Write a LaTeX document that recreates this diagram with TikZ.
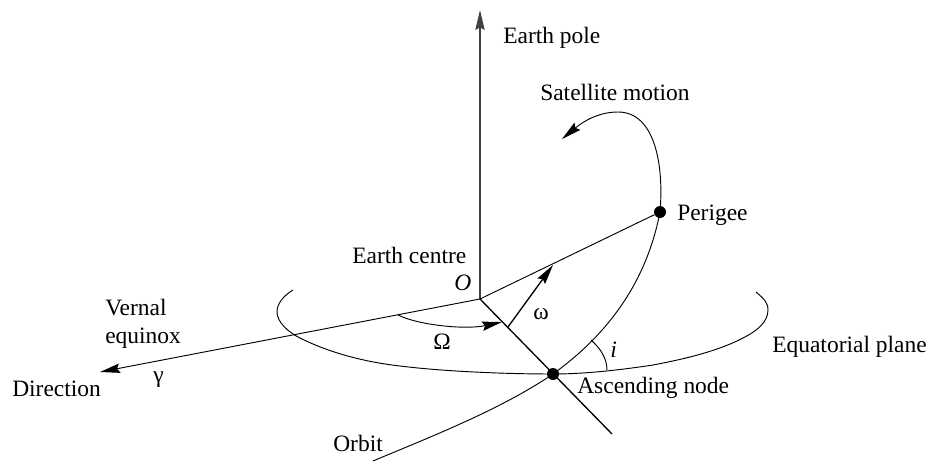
\documentclass[tikz,border=0pt]{standalone}
\usepackage{fontspec}
\setmainfont{Liberation Serif}
\usetikzlibrary{arrows.meta,positioning,calc}
\begin{document}
\begin{tikzpicture}[
  x=0.75pt, y=-0.75pt,
  font=\fontsize{17.6pt}{20pt}\selectfont,
  >={Stealth[length=15pt, width=7pt, inset=2pt]},
  lbl/.style={anchor=base west, inner sep=0pt},
  dotmark/.style={circle, fill=black, inner sep=0pt, minimum size=9pt},
  edge/.style={draw=black, line width=0.7pt},
  heavy/.style={draw=black, line width=1pt},
]
\useasboundingbox (0,0) rectangle (932,464);

% ---- points ----
\coordinate (centre) at (480,299);
\coordinate (poletip) at (480,10);
\coordinate (verntip) at (100,372);
\coordinate (linend) at (612,434);
\coordinate (omegabase) at (508,327);
\coordinate (omegatip) at (553,265);
\coordinate (nodeline) at (398,315);
\coordinate (nodearc) at (502,322);
\coordinate (orbitend) at (373,461);
\coordinate (motiontip) at (562,139);
\coordinate (eqleft) at (293,290);
\coordinate (eqright) at (756,292);
\coordinate (incl1) at (591,340);
\coordinate (incl2) at (607,370);
\node[dotmark] (perigee) at (660,212) {};
\node[dotmark] (ascnode) at (553,374) {};

% ---- labels ----
\node[lbl] (pole) at (503,43) {Earth pole};
\node[lbl] (motion) at (540,100) {Satellite motion};
\node[lbl] (per) at (677,220) {Perigee};
\node[lbl] (ecentre) at (352,263) {Earth centre};
\node[lbl] (cname) at (454,290) {\itshape O};
\node[lbl] (vern) at (105,315) {Vernal};
\node[lbl] (equi) at (105,343) {equinox};
\node[lbl] (dir) at (12,396) {Direction};
\node[lbl] (gamma) at (153,382) {γ};
\node[lbl] (bigom) at (433,349) {Ω};
\node[lbl] (smallom) at (533,319) {ω};
\node[lbl] (incl) at (610,357) {\itshape i};
\node[lbl] (eqplane) at (772,352) {Equatorial plane};
\node[lbl] (asc) at (577,393) {Ascending node};
\node[lbl] (orb) at (333,451) {Orbit};

% ---- straight lines ----
\draw[edge,draw=black!75,line width=1pt,->] (centre) -- (poletip);
\draw[edge,->] (centre) -- (verntip);
\draw[edge] (centre) -- (perigee);
\draw[heavy] (centre) -- (linend);
\draw[heavy,->] (omegabase) -- (omegatip);

% ---- curves ----
\draw[edge] (eqleft) .. controls (283,296) and (277,304) .. (277,312)
  .. controls (277,322) and (288,332) .. (300,338)
  .. controls (330,353) and (365,362) .. (400,366)
  .. controls (440,371) and (500,374) .. (ascnode.center)
  .. controls (585,374) and (620,370) .. (653,365)
  .. controls (690,358) and (720,350) .. (743,338)
  .. controls (757,331) and (768,322) .. (768,310)
  .. controls (768,302) and (763,298) .. (eqright);
\draw[edge] (orbitend) .. controls (430,437) and (500,410) .. (ascnode.center)
  .. controls (600,340) and (645,290) .. (perigee.center);
\draw[edge,->] (perigee.center) .. controls (664,165) and (655,112) .. (618,112)
  .. controls (600,112) and (585,120) .. (motiontip);
\draw[edge,->] (nodeline) .. controls (418,325) and (465,330) .. (nodearc);
\draw[edge] (incl1) .. controls (600,348) and (607,358) .. (incl2);

\end{tikzpicture}
\end{document}
